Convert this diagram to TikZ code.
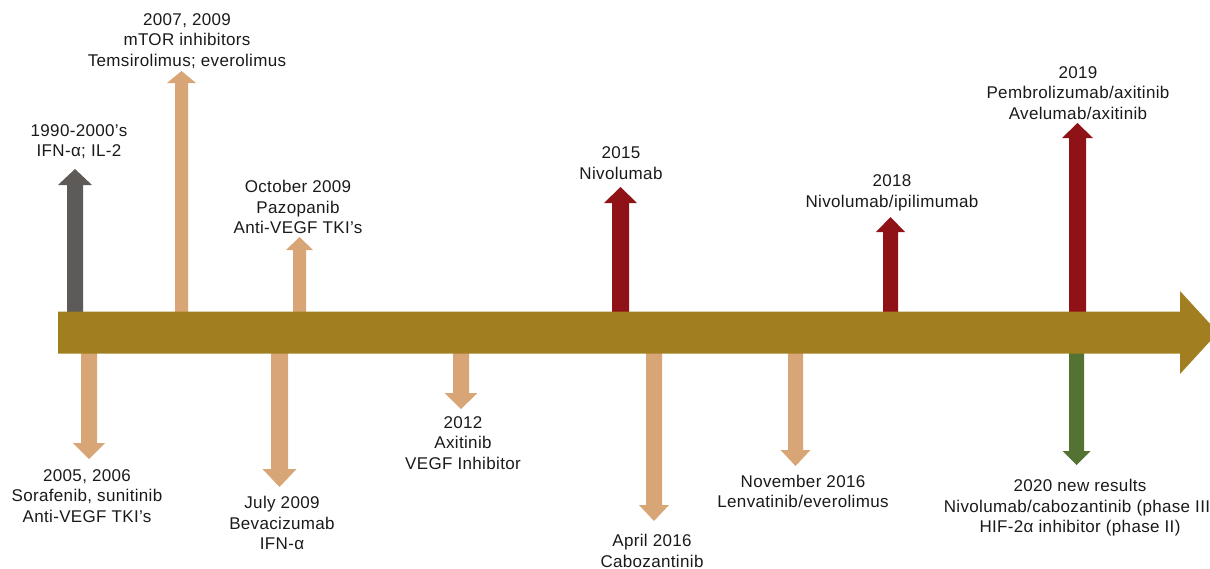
\documentclass[tikz,border=0pt]{standalone}
\usepackage{fontspec}
\setmainfont[LetterSpace=2.0]{Liberation Sans}
\definecolor{barc}{HTML}{A17F20}
\definecolor{tanc}{HTML}{D8A676}
\definecolor{grayc}{HTML}{5E5A57}
\definecolor{redc}{HTML}{8E1216}
\definecolor{greenc}{HTML}{547232}
\definecolor{txtc}{HTML}{1A1A1A}
\newcommand\BlockArr[7]{% color, cx, start y, head base y, tip y, shaft half, head half
  \fill[#1] (#2-#6,#3) -- (#2-#6,#4) -- (#2-#7,#4) -- (#2,#5) -- (#2+#7,#4) -- (#2+#6,#4) -- (#2+#6,#3) -- cycle;}
\begin{document}
\begin{tikzpicture}[x=1pt,y=-1pt,
  lbl/.style={align=center, font=\fontsize{17}{20.5}\selectfont, text=txtc, inner sep=0pt}]
\useasboundingbox (0,0) rectangle (1210,568);
% up arrows
\BlockArr{grayc}{75}{320}{185}{169}{8}{17}
\BlockArr{tanc}{181.5}{320}{83}{71}{6.5}{14.5}
\BlockArr{tanc}{299.5}{320}{250}{237}{6.5}{13.5}
\BlockArr{redc}{620.5}{320}{203}{187}{8.5}{16.5}
\BlockArr{redc}{890.5}{320}{232}{217}{7.5}{14.5}
\BlockArr{redc}{1077.5}{320}{138}{123}{8.5}{15.5}
% down arrows
\BlockArr{tanc}{89}{345}{443}{459}{8}{16}
\BlockArr{tanc}{279.5}{345}{469}{487}{8.5}{17}
\BlockArr{tanc}{461}{345}{393}{409}{8}{16.5}
\BlockArr{tanc}{654}{345}{505}{521}{8}{15}
\BlockArr{tanc}{795.5}{345}{450}{466}{7.5}{15}
\BlockArr{greenc}{1076.5}{345}{451}{465}{7.5}{14}
% timeline bar
\fill[barc] (58,311.5) -- (1180,311.5) -- (1180,291) -- (1218,332.5) -- (1180,374) -- (1180,353.5) -- (58,353.5) -- cycle;
% labels above
\node[lbl] (l1990) at (79,141.5) {1990-2000’s\\IFN-α; IL-2};
\node[lbl] (l2007) at (187,41) {2007, 2009\\mTOR inhibitors\\Temsirolimus; everolimus};
\node[lbl] (loct) at (298,207) {October 2009\\Pazopanib\\Anti-VEGF TKI’s};
\node[lbl] (l2015) at (621,163) {2015\\Nivolumab};
\node[lbl] (l2018) at (892,193) {2018\\Nivolumab/ipilimumab};
\node[lbl] (l2019) at (1078,93) {2019\\Pembrolizumab/axitinib\\Avelumab/axitinib};
% labels below
\node[lbl] (l2005) at (87,496) {2005, 2006\\Sorafenib, sunitinib\\Anti-VEGF TKI’s};
\node[lbl] (ljul) at (282,523) {July 2009\\Bevacizumab\\IFN-α};
\node[lbl] (l2012) at (463,443) {2012\\Axitinib\\VEGF Inhibitor};
\node[lbl] (lapr) at (652,551) {April 2016\\Cabozantinib};
\node[lbl] (lnov) at (803,491.5) {November 2016\\Lenvatinib/everolimus};
\node[lbl] (l2020) at (1080,508) {2020 new results\\Nivolumab/cabozantinib (phase III)\\HIF-2α inhibitor (phase II)};
\end{tikzpicture}
\end{document}
